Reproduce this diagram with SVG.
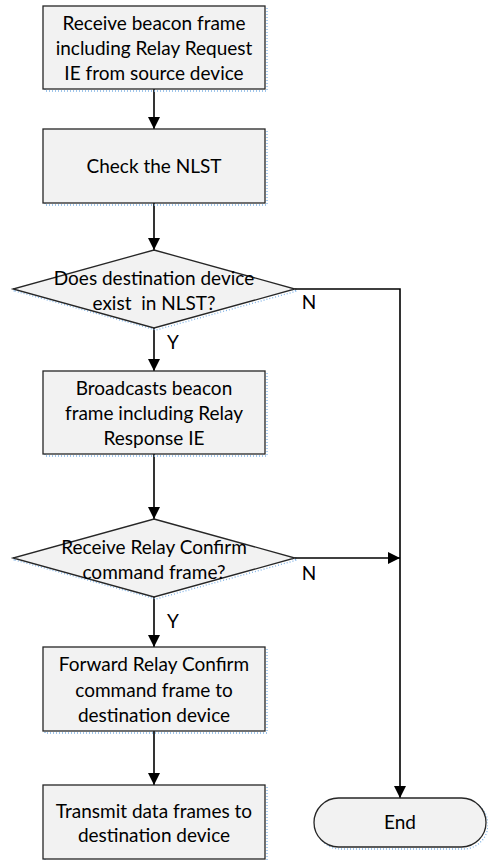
<svg xmlns="http://www.w3.org/2000/svg" width="488" height="860" viewBox="0 0 488 860">
<defs>
<style>
.box{fill:#f2f2f2;stroke:#262626;stroke-width:1.3}
.sh{fill:none;stroke:#7fb2e5;stroke-width:1.3;stroke-dasharray:1 2}
.t{font-family:Lato,"Liberation Sans",sans-serif;font-size:19px;fill:#000;text-anchor:middle;white-space:pre}
.lbl{font-family:Lato,"Liberation Sans",sans-serif;font-size:19px;fill:#000;text-anchor:middle}
.c{fill:none;stroke:#000;stroke-width:1.6}
</style>
<marker id="ah" viewBox="0 0 12 12" refX="12" refY="6" markerWidth="12" markerHeight="12" markerUnits="userSpaceOnUse" orient="auto">
<path d="M0,0 L12,6 L0,12 Z" fill="#000"/>
</marker>
</defs>
<rect width="488" height="860" fill="#fff"/>
<g id="connectors">
<line class="c" x1="154" y1="89" x2="154" y2="129" marker-end="url(#ah)"/>
<line class="c" x1="154" y1="203" x2="154" y2="250" marker-end="url(#ah)"/>
<line class="c" x1="154" y1="328" x2="154" y2="371" marker-end="url(#ah)"/>
<line class="c" x1="154" y1="454" x2="154" y2="519" marker-end="url(#ah)"/>
<line class="c" x1="154" y1="597" x2="154" y2="647" marker-end="url(#ah)"/>
<line class="c" x1="154" y1="731" x2="154" y2="785" marker-end="url(#ah)"/>
<polyline class="c" points="295,289 400,289 400,798" marker-end="url(#ah)"/>
<line class="c" x1="295" y1="558" x2="400" y2="558" marker-end="url(#ah)"/>
<text class="lbl" x="309" y="309">N</text>
<text class="lbl" x="173" y="349">Y</text>
<text class="lbl" x="309" y="580">N</text>
<text class="lbl" x="173" y="628">Y</text>
</g>
<g id="n1">
<rect class="sh" x="45" y="8" width="222" height="83"/>
<rect class="box" x="43" y="6" width="222" height="83"/>
<text class="t" x="154" y="30">Receive beacon frame</text>
<text class="t" x="154" y="55">including Relay Request</text>
<text class="t" x="154" y="80">IE from source device</text>
</g>
<g id="n2">
<rect class="sh" x="45" y="131" width="222" height="74"/>
<rect class="box" x="43" y="129" width="222" height="74"/>
<text class="t" x="154" y="173">Check the NLST</text>
</g>
<g id="n3">
<polygon class="sh" points="156,252 297,291 156,330 15,291"/>
<polygon class="box" points="154,250 295,289 154,328 13,289"/>
<text class="t" x="154" y="285">Does destination device</text>
<text class="t" x="154" y="310" xml:space="preserve">exist  in NLST?</text>
</g>
<g id="n4">
<rect class="sh" x="45" y="373" width="222" height="83"/>
<rect class="box" x="43" y="371" width="222" height="83"/>
<text class="t" x="154" y="395">Broadcasts beacon</text>
<text class="t" x="154" y="420">frame including Relay</text>
<text class="t" x="154" y="445">Response IE</text>
</g>
<g id="n5">
<polygon class="sh" points="156,521 297,560 156,599 15,560"/>
<polygon class="box" points="154,519 295,558 154,597 13,558"/>
<text class="t" x="154" y="554">Receive Relay Confirm</text>
<text class="t" x="154" y="579">command frame?</text>
</g>
<g id="n6">
<rect class="sh" x="45" y="649" width="222" height="84"/>
<rect class="box" x="43" y="647" width="222" height="84"/>
<text class="t" x="154" y="671">Forward Relay Confirm</text>
<text class="t" x="154" y="697">command frame to</text>
<text class="t" x="154" y="722">destination device</text>
</g>
<g id="n7">
<rect class="sh" x="45" y="787" width="222" height="74"/>
<rect class="box" x="43" y="785" width="222" height="74"/>
<text class="t" x="154" y="818">Transmit data frames to</text>
<text class="t" x="154" y="842">destination device</text>
</g>
<g id="n8">
<rect class="sh" x="316" y="800" width="172" height="49" rx="24.5"/>
<rect class="box" x="314" y="798" width="172" height="49" rx="24.5"/>
<text class="t" x="400" y="829">End</text>
</g>
</svg>
